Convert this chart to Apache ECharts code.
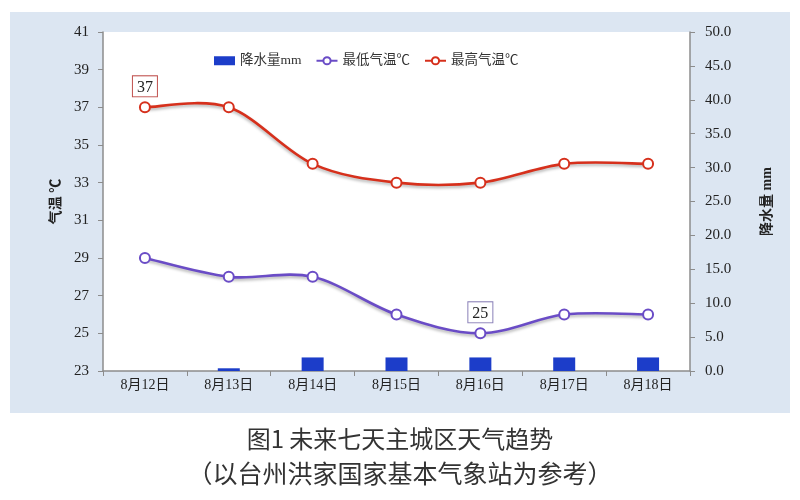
<!DOCTYPE html>
<html><head><meta charset="utf-8">
<script src="https://cdn.jsdelivr.net/npm/echarts@6/dist/echarts.min.js"></script>
<style>html,body{margin:0;padding:0;background:#fff}#c{width:800px;height:500px}</style>
</head><body><div id="c"></div>
<script>
const categories = ['8月12日','8月13日','8月14日','8月15日','8月16日','8月17日','8月18日'];
const rain = [0, 0.4, 2.0, 2.0, 2.0, 2.0, 2.0];
const tMin = [29, 28, 28, 26, 25, 26, 26];
const tMax = [37, 37, 34, 33, 33, 34, 34];
const titleMain = '图1 未来七天主城区天气趋势';
const titleSub = '（以台州洪家国家基本气象站为参考）';

const serif = '"Liberation Serif", "Times New Roman", "Noto Sans CJK SC", serif';
const cjk = '"Noto Sans CJK SC", sans-serif';
const RED = '#d6301c', PURPLE = '#6a4cc6', BLUE = '#1c3dc9';
const chart = echarts.init(document.getElementById('c'));
const axisLine = {show: true, lineStyle: {color: '#8c8c8c', width: 1.5}};
const boxLabel = (color) => ({
  show: true, position: 'top', distance: 5, color: '#222', fontFamily: serif, fontSize: 16,
  backgroundColor: '#fff', borderColor: color, borderWidth: 1, padding: [3, 4, 1, 4]
});
// Excel-like smooth curve (Catmull-Rom, 1/6 tension) through points given by the axes
function curveSeries(values, color) {
  return {
    type: 'custom', yAxisIndex: 0, z: 2, silent: true, data: values,
    renderItem: function (params, api) {
      if (params.dataIndex !== 0) return null;
      const p = values.map((v, i) => api.coord([i, v]));
      let d = 'M' + p[0][0] + ' ' + p[0][1];
      for (let i = 0; i < p.length - 1; i++) {
        const p0 = p[i - 1] || p[i], p1 = p[i], p2 = p[i + 1], p3 = p[i + 2] || p[i + 1];
        const c1 = [p1[0] + (p2[0] - p0[0]) / 6, p1[1] + (p2[1] - p0[1]) / 6];
        const c2 = [p2[0] - (p3[0] - p1[0]) / 6, p2[1] - (p3[1] - p1[1]) / 6];
        d += ' C' + c1[0] + ' ' + c1[1] + ' ' + c2[0] + ' ' + c2[1] + ' ' + p2[0] + ' ' + p2[1];
      }
      return {
        type: 'path', shape: {pathData: d},
        style: {fill: 'none', stroke: color, lineWidth: 2.6, shadowColor: 'rgba(0,0,0,0.3)', shadowBlur: 3, shadowOffsetY: 2}
      };
    }
  };
}
chart.setOption({
  animation: false,
  graphic: [{type: 'rect', z: -10, shape: {x: 10, y: 12, width: 780, height: 401}, style: {fill: '#dce6f2'}}],
  title: [
    {text: titleMain, left: 'center', top: 422, textStyle: {fontFamily: cjk, fontWeight: 'normal', fontSize: 24, color: '#333'}},
    {text: titleSub, left: 'center', top: 456, textStyle: {fontFamily: cjk, fontWeight: 'normal', fontSize: 25, color: '#333'}}
  ],
  legend: {
    top: 49, left: 209, itemGap: 14, itemWidth: 21, itemHeight: 9,
    textStyle: {fontFamily: serif, fontSize: 13.5, color: '#333'},
    data: [
      {name: '降水量mm', icon: 'rect', itemStyle: {color: BLUE}},
      {name: '最低气温℃', lineStyle: {color: PURPLE, width: 2, opacity: 1}},
      {name: '最高气温℃', lineStyle: {color: RED, width: 2, opacity: 1}}
    ]
  },
  grid: {left: 103, right: 110, top: 32, bottom: 129, show: true, backgroundColor: '#fff', borderWidth: 0},
  xAxis: {
    type: 'category', data: categories, boundaryGap: true,
    axisLine: axisLine, axisTick: {show: true, length: 5, lineStyle: {color: '#8c8c8c'}},
    axisLabel: {fontFamily: serif, fontSize: 14, color: '#222', margin: 7}
  },
  yAxis: [
    {type: 'value', min: 23, max: 41, interval: 2, name: '气温 ℃', nameLocation: 'middle', nameGap: 37, nameRotate: 90,
     nameTextStyle: {fontFamily: serif, fontWeight: 'bold', fontSize: 14, color: '#222'},
     axisLine: axisLine, axisTick: {show: true, length: 5, lineStyle: {color: '#8c8c8c'}},
     splitLine: {show: false}, axisLabel: {fontFamily: serif, fontSize: 15, color: '#222', margin: 14}},
    {type: 'value', min: 0, max: 50, interval: 5, position: 'right', name: '降水量 mm', nameLocation: 'middle', nameGap: 70, nameRotate: 90,
     nameTextStyle: {fontFamily: serif, fontWeight: 'bold', fontSize: 14, color: '#222'},
     axisLine: axisLine, axisTick: {show: true, length: 5, lineStyle: {color: '#8c8c8c'}},
     splitLine: {show: false}, axisLabel: {fontFamily: serif, fontSize: 15, color: '#222', margin: 15, formatter: v => v.toFixed(1)}}
  ],
  series: [
    {name: '降水量mm', type: 'bar', yAxisIndex: 1, data: rain, barWidth: 22, itemStyle: {color: BLUE}},
    curveSeries(tMin, PURPLE),
    curveSeries(tMax, RED),
    {name: '最低气温℃', type: 'line', yAxisIndex: 0, z: 3, data: tMin.map((v, i) => i === 4 ? {value: v, label: boxLabel('#8a80b8')} : v),
     symbol: 'circle', symbolSize: 10, lineStyle: {color: PURPLE, opacity: 0},
     itemStyle: {color: '#fff', borderColor: PURPLE, borderWidth: 2}},
    {name: '最高气温℃', type: 'line', yAxisIndex: 0, z: 3, data: tMax.map((v, i) => i === 0 ? {value: v, label: boxLabel('#c0504d')} : v),
     symbol: 'circle', symbolSize: 10, lineStyle: {color: RED, opacity: 0},
     itemStyle: {color: '#fff', borderColor: RED, borderWidth: 2}}
  ]
});
</script></body></html>
